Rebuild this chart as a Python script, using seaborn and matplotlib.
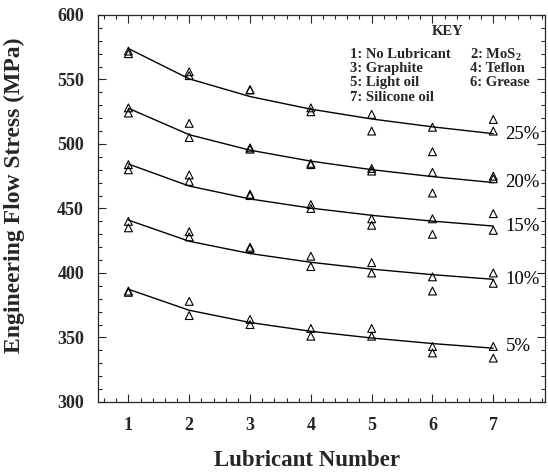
import numpy as np
import pandas as pd
import matplotlib
matplotlib.use("Agg")
import matplotlib.pyplot as plt
from matplotlib.ticker import MultipleLocator
import seaborn as sns

# data
lubricants = [1, 2, 3, 4, 5, 6, 7]
strains = ['25%', '20%', '15%', '10%', '5%']

# two measured points per lubricant and strain (MPa)
pts_25 = [[572, 570], [556, 553], [542, 542], [528, 525], [523, 510], [513, 494], [519, 510]]
pts_20 = [[528, 524], [516, 505], [497, 496], [485, 484], [481, 479], [478, 462], [475, 473]]
pts_15 = [[484, 480], [476, 471], [461, 460], [453, 450], [442, 437], [442, 430], [446, 433]]
pts_10 = [[440, 435], [432, 428], [420, 419], [413, 405], [408, 400], [397, 386], [400, 392]]
pts_5 = [[386, 385], [378, 367], [364, 360], [357, 351], [357, 351], [343, 338], [343, 334]]

# fitted curves
fit_25 = [574, 550.5, 536.8, 527.0, 519.4, 513.3, 508.0]
fit_20 = [527.7, 507.2, 495.2, 486.7, 480.1, 474.7, 470.1]
fit_15 = [484.5, 467.4, 457.4, 450.3, 444.7, 440.2, 436.4]
fit_10 = [441.0, 424.6, 415.1, 408.3, 403.0, 398.7, 395.1]
fit_5 = [387.4, 371.1, 361.6, 354.8, 349.6, 345.3, 341.7]

label_y = [507, 470, 436, 395, 343]

key_lines = [("1: No Lubricant", "2: MoS$_{\\mathbf{2}}$"),
             ("3: Graphite", "4: Teflon"),
             ("5: Light oil", "6: Grease"),
             ("7: Silicone oil", "")]

all_pts = [pts_25, pts_20, pts_15, pts_10, pts_5]
all_fit = [fit_25, fit_20, fit_15, fit_10, fit_5]

rows = []
for s, pts in zip(strains, all_pts):
    for lub, pair in zip(lubricants, pts):
        for v in pair:
            rows.append({'strain': s, 'lub': lub, 'stress': v})
df_pts = pd.DataFrame(rows)

rows = []
for s, fit in zip(strains, all_fit):
    for lub, v in zip(lubricants, fit):
        rows.append({'strain': s, 'lub': lub, 'fit': v})
df_fit = pd.DataFrame(rows)

sns.set_style("ticks")
plt.rcParams['font.family'] = ['Liberation Serif', 'DejaVu Serif']
plt.rcParams['mathtext.fontset'] = 'custom'
plt.rcParams['mathtext.rm'] = 'Liberation Serif:bold'
plt.rcParams['mathtext.bf'] = 'Liberation Serif:bold'

fig = plt.figure(figsize=(5.48, 4.76), dpi=100)
ax = fig.add_axes([0.1788, 0.1555, 0.8157, 0.813])

sns.lineplot(data=df_fit, x='lub', y='fit', units='strain', estimator=None,
             color='black', lw=1.0, ax=ax)
sns.scatterplot(data=df_pts, x='lub', y='stress', marker='^', s=32,
                facecolors='none', edgecolor='black', linewidth=0.8, ax=ax)

for s, y in zip(strains, label_y):
    ax.text(7.2, y, s, fontsize=13.5, va='center', ha='left', color='black')

# key
ax.text(6.25, 587, "KEY", fontsize=10.5, fontweight='bold', ha='center', va='center')
key_y = [569, 558.5, 548, 536]
for (a, b), y in zip(key_lines, key_y):
    ax.text(4.65, y, a, fontsize=10.5, fontweight='bold', va='center', ha='left')
    if b:
        ax.text(6.62, y, b, fontsize=10.5, fontweight='bold', va='center', ha='left')

ax.set_xlim(0.5, 7.85)
ax.set_ylim(300, 600)
ax.set_xticks(lubricants)
ax.set_yticks([300, 350, 400, 450, 500, 550, 600])
ax.xaxis.set_minor_locator(MultipleLocator(0.2))
ax.yaxis.set_minor_locator(MultipleLocator(10))
ax.tick_params(which='both', direction='in', top=True, right=True, width=0.8)
ax.tick_params(which='major', length=6, labelsize=13)
ax.tick_params(axis='x', which='major', pad=11)
ax.tick_params(axis='y', which='major', pad=10)
ax.tick_params(which='minor', length=3)
for lbl in ax.get_xticklabels() + ax.get_yticklabels():
    lbl.set_fontweight('bold')
for sp in ax.spines.values():
    sp.set_linewidth(0.9)
    sp.set_visible(True)

ax.set_xlabel("Lubricant Number", fontsize=16.5, fontweight='bold')
ax.set_ylabel("Engineering Flow Stress (MPa)", fontsize=17, fontweight='bold')
ax.xaxis.set_label_coords(0.4676, -0.124)
ax.yaxis.set_label_coords(-0.163, 0.535)

fig.savefig("out.png", dpi=100)
